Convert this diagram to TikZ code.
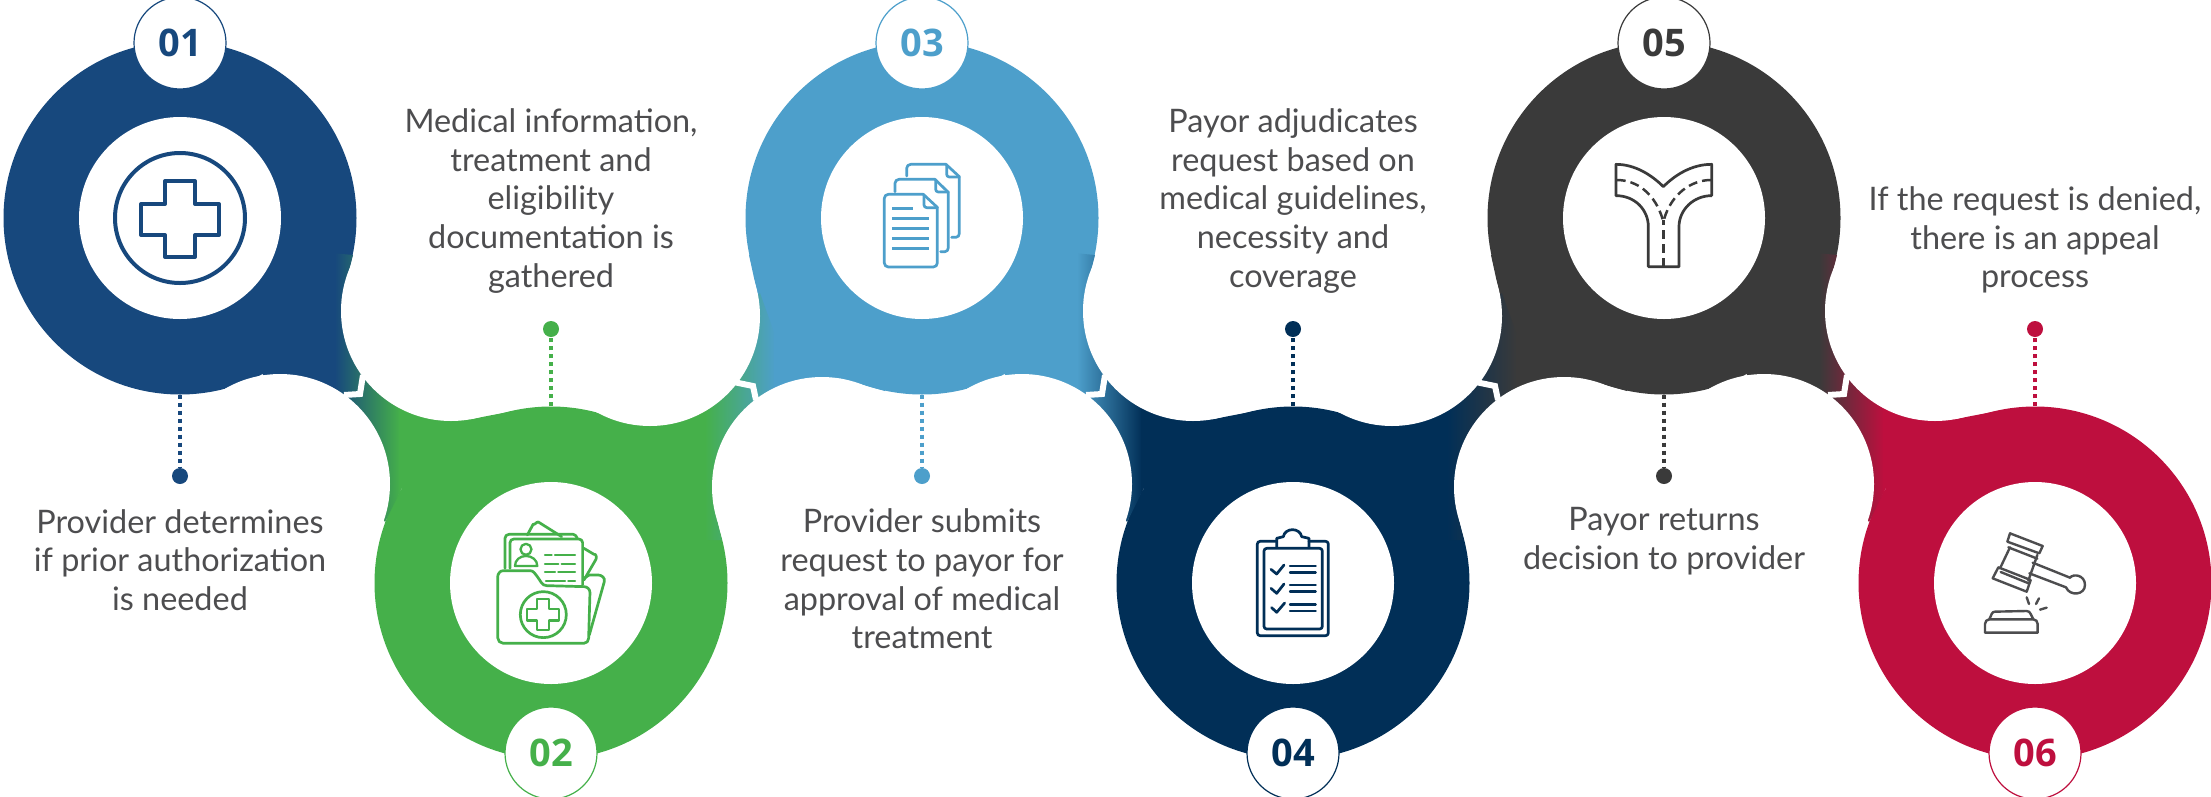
\documentclass[tikz,border=0pt]{standalone}
\usepackage{fontspec}
\setmainfont{Lato}
\newfontfamily\numfont{Open Sans}
\definecolor{cA}{HTML}{17487D}
\definecolor{cB}{HTML}{45B04A}
\definecolor{cC}{HTML}{4D9FCB}
\definecolor{cD}{HTML}{012F57}
\definecolor{cE}{HTML}{3A3A3A}
\definecolor{cF}{HTML}{BE0F3E}
\definecolor{txt}{HTML}{4D4D4F}
\tikzset{
  blob/.style={circle,fill=#1,minimum size=353pt,inner sep=0pt,draw=none},
  hole/.style={circle,fill=white,minimum size=202pt,inner sep=0pt,draw=none},
  badge/.style={circle,fill=white,draw=#1,line width=1.2pt,minimum size=92pt,inner sep=0pt,text=#1,
     font=\numfont\bfseries\fontsize{38}{38}\selectfont},
  dotend/.style={circle,fill=#1,minimum size=16pt,inner sep=0pt,draw=none},
  stem/.style={draw=#1,line width=4pt,dash pattern=on 4pt off 4pt},
  note/.style={text=txt,align=center,inner sep=0pt,font=\fontsize{32.4}{38.7}\selectfont},
  tick/.style={draw=white,line width=6pt,miter limit=10},
  icon/.style={draw=#1,line width=2.7pt,line join=round,line cap=round,fill=none},
  zoomed/.style={shift={(#1)},x=0.3333pt,y=-0.3333pt}
}
% connector going down from an upper circle to a lower one
\newcommand{\linkdown}[3]{%
 \begin{scope}[xshift=#1pt]
  \begin{scope}
   \clip (300,250)--(353,255)--(341.6,300)--(400,320)--(465,410)--(470,419.3)--(515,410.7)--(530,430)--(470,520)--(402,488)--(385,522)--(340,450)--(264,376)--(240,340)--cycle;
   \fill[#2] (230,240) rectangle (336,530);
   \shade[left color=#2,right color=#3] (335,240) rectangle (400,530);
   \fill[#3] (399,240) rectangle (540,530);
  \end{scope}
 \end{scope}}
% connector going up from a lower circle to an upper one
\newcommand{\linkup}[3]{%
 \begin{scope}[xshift=#1pt]
  \fill[#3] (758.8,300)--(749,255)--(790,250)--(800,345)--(770,345)--cycle;
  \begin{scope}
   \clip (575,430)--(590,411.4)--(630,424.2)--(640,400)--(760,293)--(775,335)--(790,335)--(880,360)--(885,391)--(840,378.5)--(830,400)--(712.8,500)--(721.7,540)--(690,540)--cycle;
   \fill[#2] (570,240) rectangle (706,550);
   \shade[left color=#2,right color=#3] (705,240) rectangle (775,550);
   \fill[#3] (774,240) rectangle (890,550);
  \end{scope}
 \end{scope}}
\begin{document}
\begin{tikzpicture}[x=1pt,y=-1pt]
\useasboundingbox (0,0) rectangle (2211,796);
% main discs
\node[blob=cA] (c1) at (180,218) {};
\node[blob=cB] (c2) at (551,583) {};
\node[blob=cC] (c3) at (922,218) {};
\node[blob=cD] (c4) at (1293,583) {};
\node[blob=cE] (c5) at (1664,218) {};
\node[blob=cF] (c6) at (2035,583) {};
% links
\linkdown{0}{cA}{cB}
\linkup{0}{cB}{cC}
\linkdown{742}{cC}{cD}
\linkup{742}{cD}{cE}
\linkdown{1484}{cE}{cF}
% white bays
\foreach \dx in {0,742,1484}{
  \fill[white] (451+\dx,311) circle[radius=110pt];
  \fill[white] (280+\dx,484) circle[radius=110pt];
}
\foreach \dx in {0,742}{
  \fill[white] (650+\dx,316) circle[radius=110pt];
  \fill[white] (822+\dx,487) circle[radius=110pt];
}
% ticks
\foreach \dx in {0,742,1484}{
  \draw[tick] (363+\dx,375)--(360+\dx,394)--(344+\dx,395);
}
\foreach \dx in {0,742}{
  \draw[tick] (736+\dx,382.5)--(753+\dx,386)--(756+\dx,400);
}
% inner holes
\node[hole] (h1) at (c1) {};
\node[hole] (h2) at (c2) {};
\node[hole] (h3) at (c3) {};
\node[hole] (h4) at (c4) {};
\node[hole] (h5) at (c5) {};
\node[hole] (h6) at (c6) {};
% badges
\node[badge=cA] (b1) at (180,43) {01};
\node[badge=cB] (b2) at (551,753) {02};
\node[badge=cC] (b3) at (922,43) {03};
\node[badge=cD] (b4) at (1293,753) {04};
\node[badge=cE] (b5) at (1664,43) {05};
\node[badge=cF] (b6) at (2035,753) {06};
% end dots and stems
\node[dotend=cA] (d1) at (180,476) {};
\node[dotend=cB] (d2) at (551,329) {};
\node[dotend=cC] (d3) at (922,476) {};
\node[dotend=cD] (d4) at (1293,329) {};
\node[dotend=cE] (d5) at (1664,476) {};
\node[dotend=cF] (d6) at (2035,329) {};
\draw[stem=cA] (c1.south)--(d1.north);
\draw[stem=cB] (c2.north)--(d2.south);
\draw[stem=cC] (c3.south)--(d3.north);
\draw[stem=cD] (c4.north)--(d4.south);
\draw[stem=cE] (c5.south)--(d5.north);
\draw[stem=cF] (c6.north)--(d6.south);
% notes
\node[note] (t1) at (180,560) {Provider determines\\if prior authorization\\is needed};
\node[note] (t2) at (551,201) {Medical information,\\treatment and\\eligibility\\documentation is\\gathered};
\node[note] (t3) at (922,579) {Provider submits\\request to payor for\\approval of medical\\treatment};
\node[note] (t4) at (1293,201) {Payor adjudicates\\request based on\\medical guidelines,\\necessity and\\coverage};
\node[note] (t5) at (1664,541) {Payor returns\\decision to provider};
\node[note] (t6) at (2035,240) {If the request is denied,\\there is an appeal\\process};
% icon 1: cross in ring
\draw[cA,line width=4pt] (h1) circle[radius=65pt];
\draw[cA,line width=4pt,line join=round]
  (165,181)--(195,181)--(195,204)--(219,204)--(219,235)--(195,235)--(195,257)--(165,257)--(165,235)--(141,235)--(141,204)--(165,204)--cycle;
% icon 2: folder
\begin{scope}[zoomed={300,320}]
 \draw[icon=cB] (682,645)--(700,612) to[out=-60,in=170] (715,606)--(785,650);
 \draw[icon=cB] (852,685)--(882,703) to[out=30,in=60] (888,718)--(852,780);
 \draw[icon=cB] (615,745)--(615,655) to[out=90,in=180] (627,643)--(820,643) to[out=0,in=120] (832,655);
 \draw[icon=cB] (630,745)--(630,668) to[out=90,in=180] (642,657)--(836,657) to[out=0,in=90] (848,668)--(848,795);
 \draw[icon=cB] (852,775)--(868,765)--(895,765) to[out=0,in=70] (913,785)--(868,945);
 \draw[icon=cB] (593,772) to[out=90,in=180] (610,752)--(690,752) to[out=0,in=130] (712,770) to[out=-50,in=180] (740,797)--(852,800) to[out=0,in=90] (870,818)--(866,955) to[out=-90,in=0] (852,970)--(610,970) to[out=180,in=-90] (593,953)--cycle;
 \draw[icon=cB] (730,884) circle[radius=23pt];
 \draw[icon=cB,line width=2.3pt] (712,838)--(748,838)--(748,868)--(778,868)--(778,902)--(748,902)--(748,930)--(712,930)--(712,902)--(682,902)--(682,868)--(712,868)--cycle;
 \draw[icon=cB,line width=2.3pt] (678,688) circle[radius=5.5pt];
 \draw[icon=cB,line width=2.3pt] (645,738) .. controls (645,720) and (660,708) .. (678,708) .. controls (696,708) and (712,720) .. (712,738) -- cycle;
 \draw[icon=cB,line width=2.3pt]
   (735,705)--(755,705) (765,705)--(825,705)
   (735,731)--(775,731) (785,731)--(825,731)
   (735,757)--(765,757) (775,757)--(825,757)
   (738,782)--(795,782) (805,782)--(825,782);
\end{scope}
% icon 3: documents
\begin{scope}[zoomed={820,130}]
 \draw[icon=cC] (260,138)--(260,115) to[out=90,in=180] (272,103)--(378,103)--(418,140)--(418,310) to[out=-90,in=0] (408,322)--(395,322);
 \draw[icon=cC] (380,105)--(380,133) to[out=-90,in=180] (388,141)--(418,141);
 \draw[icon=cC] (225,185)--(225,160) to[out=90,in=180] (237,148)--(345,148)--(385,187)--(385,353) to[out=-90,in=0] (375,365)--(362,365);
 \draw[icon=cC] (347,150)--(347,178) to[out=-90,in=180] (355,186)--(385,186);
 \draw[icon=cC] (310,193)--(205,193) to[out=180,in=90] (193,205)--(193,399) to[out=-90,in=180] (205,411)--(340,411) to[out=0,in=-90] (352,399)--(352,232)--cycle;
 \draw[icon=cC] (312,195)--(312,225) to[out=-90,in=180] (320,233)--(352,233);
 \draw[icon=cC,line cap=butt] (217,235)--(278,235) (217,265)--(327,265) (217,295)--(327,295) (217,325)--(327,325) (217,355)--(327,355);
\end{scope}
% icon 4: clipboard
\begin{scope}[zoomed={1200,500}]
 \draw[icon=cD] (230,124)--(180,124) to[out=180,in=90] (172,132)--(172,399) to[out=-90,in=180] (180,407)--(377,407) to[out=0,in=-90] (385,399)--(385,132) to[out=90,in=0] (377,124)--(327,124);
 \draw[icon=cD] (200,145)--(359,145) to[out=0,in=90] (367,153)--(367,379) to[out=-90,in=0] (359,387)--(200,387) to[out=180,in=-90] (192,379)--(192,153) to[out=90,in=180] cycle;
 \draw[icon=cD] (230,143)--(230,115)--(250,110) .. controls (255,82) and (300,82) .. (305,110)--(327,115)--(327,143);
 \draw[icon=cD] (213,208)--(230,222)--(252,195) (213,265)--(230,280)--(252,252) (215,323)--(230,337)--(254,309);
 \draw[icon=cD,line width=2.4pt] (270,198)--(347,198) (270,218)--(347,218) (270,255)--(347,255) (270,275)--(347,275) (270,313)--(347,313) (270,333)--(347,333);
\end{scope}
% icon 5: forked road
\begin{scope}[zoomed={1580,130}]
 \draw[icon=cE,line cap=butt] (205,410)--(205,290) .. controls (205,240) and (165,197) .. (108,197)--(108,103) .. controls (165,103) and (215,135) .. (250,170) .. controls (285,135) and (335,103) .. (395,103)--(395,197) .. controls (340,197) and (297,240) .. (297,290)--(297,410)--cycle;
 \draw[cE,line width=2.5pt,dash pattern=on 9pt off 5pt] (250,410)--(250,270);
 \draw[cE,line width=2.5pt,dash pattern=on 9pt off 5pt] (110,150) .. controls (170,150) and (225,190) .. (248,268);
 \draw[cE,line width=2.5pt,dash pattern=on 9pt off 5pt] (393,150) .. controls (335,150) and (275,190) .. (252,268);
\end{scope}
% icon 6: gavel
\begin{scope}[zoomed={1930,510}]
 \tikzset{gv/.style={draw=txt,line width=2.4pt,line join=round,line cap=round,fill=none}}
 \draw[gv] (240,70)--(338,108)--(328,130)--(232,95)--cycle;
 \draw[gv] (235,112)--(322,146);
 \draw[gv] (240,112)--(210,175);
 \draw[gv] (322,135)--(295,212);
 \draw[gv] (205,172)--(302,210)--(290,245)--(188,205)--cycle;
 \draw[gv] (212,186)--(296,220);
 \draw[gv] (308,158)--(420,203);
 \draw[gv] (298,190)--(408,232);
 \draw[gv] (420,203) .. controls (430,190) and (465,195) .. (465,225) .. controls (465,255) and (420,260) .. (408,232);
 \draw[gv] (290,262)--(297,282) (327,265)--(318,282) (350,293)--(330,299);
 \draw[gv] (165,368)--(165,342) to[out=90,in=180] (178,328)--(310,328) to[out=0,in=90] (323,342)--(323,368)--cycle;
 \draw[gv] (178,328)--(185,312) to[out=70,in=180] (195,305)--(290,303) to[out=0,in=110] (302,312)--(310,328);
\end{scope}
\end{tikzpicture}
\end{document}
